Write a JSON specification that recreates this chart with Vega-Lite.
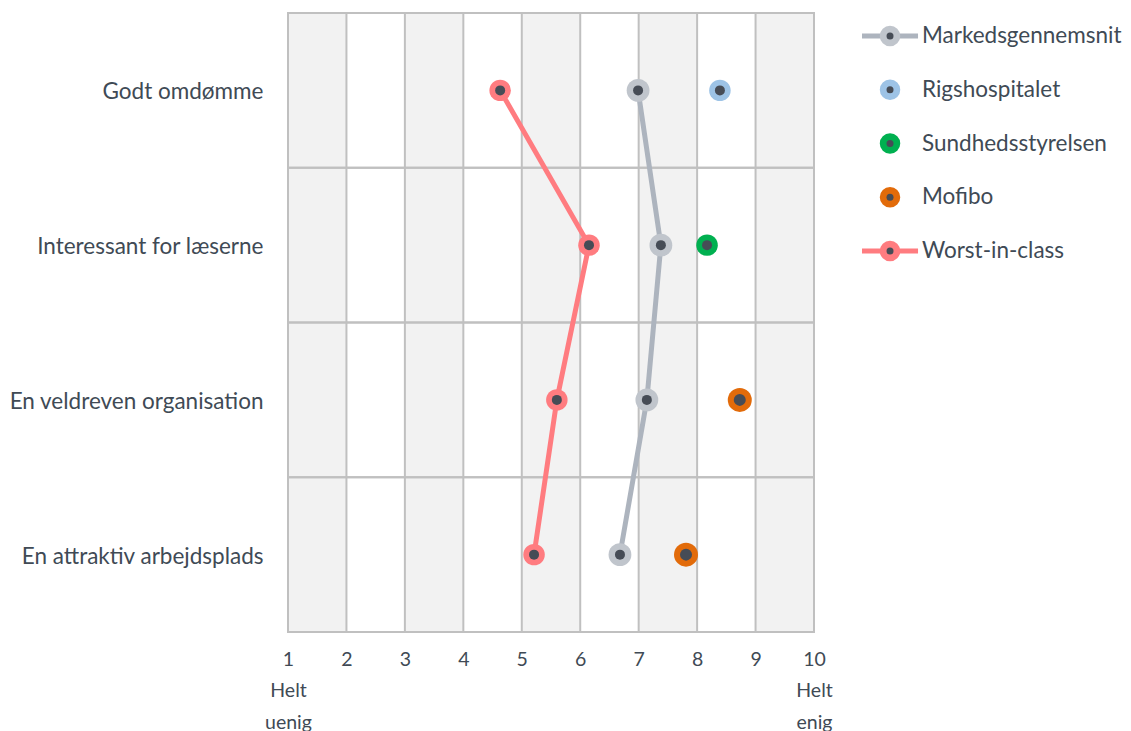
{
  "$schema": "https://vega.github.io/schema/vega-lite/v6.json",
  "background": "white",
  "padding": {"left": 8, "top": 12, "right": 0, "bottom": 0},
  "bounds": "flush",
  "spacing": 48,
  "config": {"view": {"stroke": null}, "font": "Lato"},
  "datasets": {
    "scores": [
      {"cat": "Godt omdømme", "k": 1, "series": "Markedsgennemsnit", "v": 6.99},
      {"cat": "Interessant for læserne", "k": 2, "series": "Markedsgennemsnit", "v": 7.38},
      {"cat": "En veldreven organisation", "k": 3, "series": "Markedsgennemsnit", "v": 7.14},
      {"cat": "En attraktiv arbejdsplads", "k": 4, "series": "Markedsgennemsnit", "v": 6.68},
      {"cat": "Godt omdømme", "k": 1, "series": "Worst-in-class", "v": 4.63},
      {"cat": "Interessant for læserne", "k": 2, "series": "Worst-in-class", "v": 6.15},
      {"cat": "En veldreven organisation", "k": 3, "series": "Worst-in-class", "v": 5.60},
      {"cat": "En attraktiv arbejdsplads", "k": 4, "series": "Worst-in-class", "v": 5.21},
      {"cat": "Godt omdømme", "k": 1, "series": "Rigshospitalet", "v": 8.39},
      {"cat": "Interessant for læserne", "k": 2, "series": "Sundhedsstyrelsen", "v": 8.17},
      {"cat": "En veldreven organisation", "k": 3, "series": "Mofibo", "v": 8.73},
      {"cat": "En attraktiv arbejdsplads", "k": 4, "series": "Mofibo", "v": 7.81}
    ],
    "cols": [
      {"x0": 1, "x1": 2}, {"x0": 3, "x1": 4}, {"x0": 5, "x1": 6}, {"x0": 7, "x1": 8}, {"x0": 9, "x1": 10}
    ],
    "ticks": [
      {"x": 1}, {"x": 2}, {"x": 3}, {"x": 4}, {"x": 5}, {"x": 6}, {"x": 7}, {"x": 8}, {"x": 9}, {"x": 10}
    ],
    "cats": [
      {"cat": "Godt omdømme"}, {"cat": "Interessant for læserne"}, {"cat": "En veldreven organisation"}, {"cat": "En attraktiv arbejdsplads"}
    ],
    "legend": [
      {"series": "Markedsgennemsnit", "k": 1}, {"series": "Rigshospitalet", "k": 2}, {"series": "Sundhedsstyrelsen", "k": 3}, {"series": "Mofibo", "k": 4}, {"series": "Worst-in-class", "k": 5}
    ]
  },
  "hconcat": [
    {
      "width": 526,
      "height": 619,
      "layer": [
        {
          "data": {"name": "cols"},
          "mark": {"type": "rect", "fill": "#f2f2f2"},
          "encoding": {
            "x": {"field": "x0", "type": "quantitative", "scale": {"domain": [1, 10], "nice": false, "zero": false},
              "axis": {"orient": "bottom", "values": [1, 2, 3, 4, 5, 6, 7, 8, 9, 10], "format": "d", "grid": false, "ticks": false, "domain": false, "title": null, "labelFontSize": 19.5, "labelColor": "#404a55", "labelPadding": 18, "labelFlush": false, "labelOverlap": false, "labelLineHeight": 31.5,
                "labelExpr": "datum.value == 1 ? ['1', 'Helt', 'uenig'] : datum.value == 10 ? ['10', 'Helt', 'enig'] : datum.label"}},
            "x2": {"field": "x1"}
          }
        },
        {
          "data": {"name": "ticks"},
          "mark": {"type": "rule", "color": "#c0c0c0", "strokeWidth": 2},
          "encoding": {
            "x": {"field": "x", "type": "quantitative"}
          }
        },
        {
          "data": {"name": "cats"},
          "mark": {"type": "rect", "fill": "transparent", "stroke": "#c0c0c0", "strokeWidth": 2},
          "encoding": {
            "y": {"field": "cat", "type": "nominal",
              "scale": {"domain": ["Godt omdømme", "Interessant for læserne", "En veldreven organisation", "En attraktiv arbejdsplads"], "paddingInner": 0, "paddingOuter": 0},
              "axis": {"grid": false, "ticks": false, "domain": false, "title": null, "labelFontSize": 22.5, "labelColor": "#404a55", "labelPadding": 25, "labelLimit": 400, "labelOffset": 2}}
          }
        },
        {
          "data": {"name": "scores"},
          "transform": [{"filter": "datum.series == 'Markedsgennemsnit' || datum.series == 'Worst-in-class'"}],
          "mark": {"type": "line", "strokeWidth": 5},
          "encoding": {
            "x": {"field": "v", "type": "quantitative"},
            "y": {"field": "cat", "type": "nominal"},
            "stroke": {"field": "series", "type": "nominal", "scale": {"domain": ["Markedsgennemsnit", "Worst-in-class"], "range": ["#adb4be", "#ff7c80"]}, "legend": null},
            "order": {"field": "k", "type": "quantitative"}
          }
        },
        {
          "data": {"name": "scores"},
          "transform": [{"filter": "datum.series != 'Mofibo' && datum.series != 'Markedsgennemsnit'"}],
          "mark": {"type": "point", "shape": "circle", "filled": true, "opacity": 1, "size": 462},
          "encoding": {
            "x": {"field": "v", "type": "quantitative"},
            "y": {"field": "cat", "type": "nominal"},
            "fill": {"field": "series", "type": "nominal", "scale": {"domain": ["Markedsgennemsnit", "Rigshospitalet", "Sundhedsstyrelsen", "Mofibo", "Worst-in-class"], "range": ["#c0c5cc", "#9dc3e6", "#00b050", "#e26b0a", "#ff7c80"]}, "legend": null}
          }
        },
        {
          "data": {"name": "scores"},
          "transform": [{"filter": "datum.series == 'Markedsgennemsnit'"}],
          "mark": {"type": "point", "shape": "circle", "filled": true, "opacity": 1, "size": 520},
          "encoding": {
            "x": {"field": "v", "type": "quantitative"},
            "y": {"field": "cat", "type": "nominal"},
            "fill": {"field": "series", "type": "nominal", "legend": null}
          }
        },
        {
          "data": {"name": "scores"},
          "transform": [{"filter": "datum.series == 'Mofibo'"}],
          "mark": {"type": "point", "shape": "circle", "filled": true, "opacity": 1, "size": 576},
          "encoding": {
            "x": {"field": "v", "type": "quantitative"},
            "y": {"field": "cat", "type": "nominal"},
            "fill": {"field": "series", "type": "nominal", "legend": null}
          }
        },
        {
          "data": {"name": "scores"},
          "transform": [{"filter": "datum.series != 'Mofibo'"}],
          "mark": {"type": "point", "shape": "circle", "filled": true, "opacity": 1, "size": 100, "color": "#464c56"},
          "encoding": {
            "x": {"field": "v", "type": "quantitative"},
            "y": {"field": "cat", "type": "nominal"}
          }
        },
        {
          "data": {"name": "scores"},
          "transform": [{"filter": "datum.series == 'Mofibo'"}],
          "mark": {"type": "point", "shape": "circle", "filled": true, "opacity": 1, "size": 144, "color": "#464c56"},
          "encoding": {
            "x": {"field": "v", "type": "quantitative"},
            "y": {"field": "cat", "type": "nominal"}
          }
        }
      ]
    },
    {
      "width": 260,
      "height": 270,
      "data": {"name": "legend"},
      "encoding": {
        "y": {"field": "k", "type": "quantitative",
          "scale": {"domain": [0.572, 5.595], "nice": false, "zero": false, "reverse": true},
          "axis": null}
      },
      "layer": [
        {
          "transform": [{"filter": "datum.series == 'Markedsgennemsnit' || datum.series == 'Worst-in-class'"}],
          "mark": {"type": "rule", "strokeWidth": 5},
          "encoding": {
            "x": {"datum": 0, "type": "quantitative", "scale": {"domain": [0, 4.64], "nice": false, "zero": false}, "axis": null},
            "x2": {"datum": 1},
            "stroke": {"field": "series", "type": "nominal", "scale": {"domain": ["Markedsgennemsnit", "Worst-in-class"], "range": ["#adb4be", "#ff7c80"]}, "legend": null}
          }
        },
        {
          "mark": {"type": "point", "shape": "circle", "filled": true, "opacity": 1, "size": 420},
          "encoding": {
            "x": {"datum": 0.5, "type": "quantitative"},
            "fill": {"field": "series", "type": "nominal", "scale": {"domain": ["Markedsgennemsnit", "Rigshospitalet", "Sundhedsstyrelsen", "Mofibo", "Worst-in-class"], "range": ["#c0c5cc", "#9dc3e6", "#00b050", "#e26b0a", "#ff7c80"]}, "legend": null}
          }
        },
        {
          "mark": {"type": "point", "shape": "circle", "filled": true, "opacity": 1, "size": 49, "color": "#464c56"},
          "encoding": {
            "x": {"datum": 0.5, "type": "quantitative"}
          }
        },
        {
          "mark": {"type": "text", "align": "left", "baseline": "middle", "fontSize": 22.5, "color": "#404a55", "font": "Lato"},
          "encoding": {
            "x": {"datum": 1.07, "type": "quantitative"},
            "text": {"field": "series"}
          }
        }
      ]
    }
  ]
}
